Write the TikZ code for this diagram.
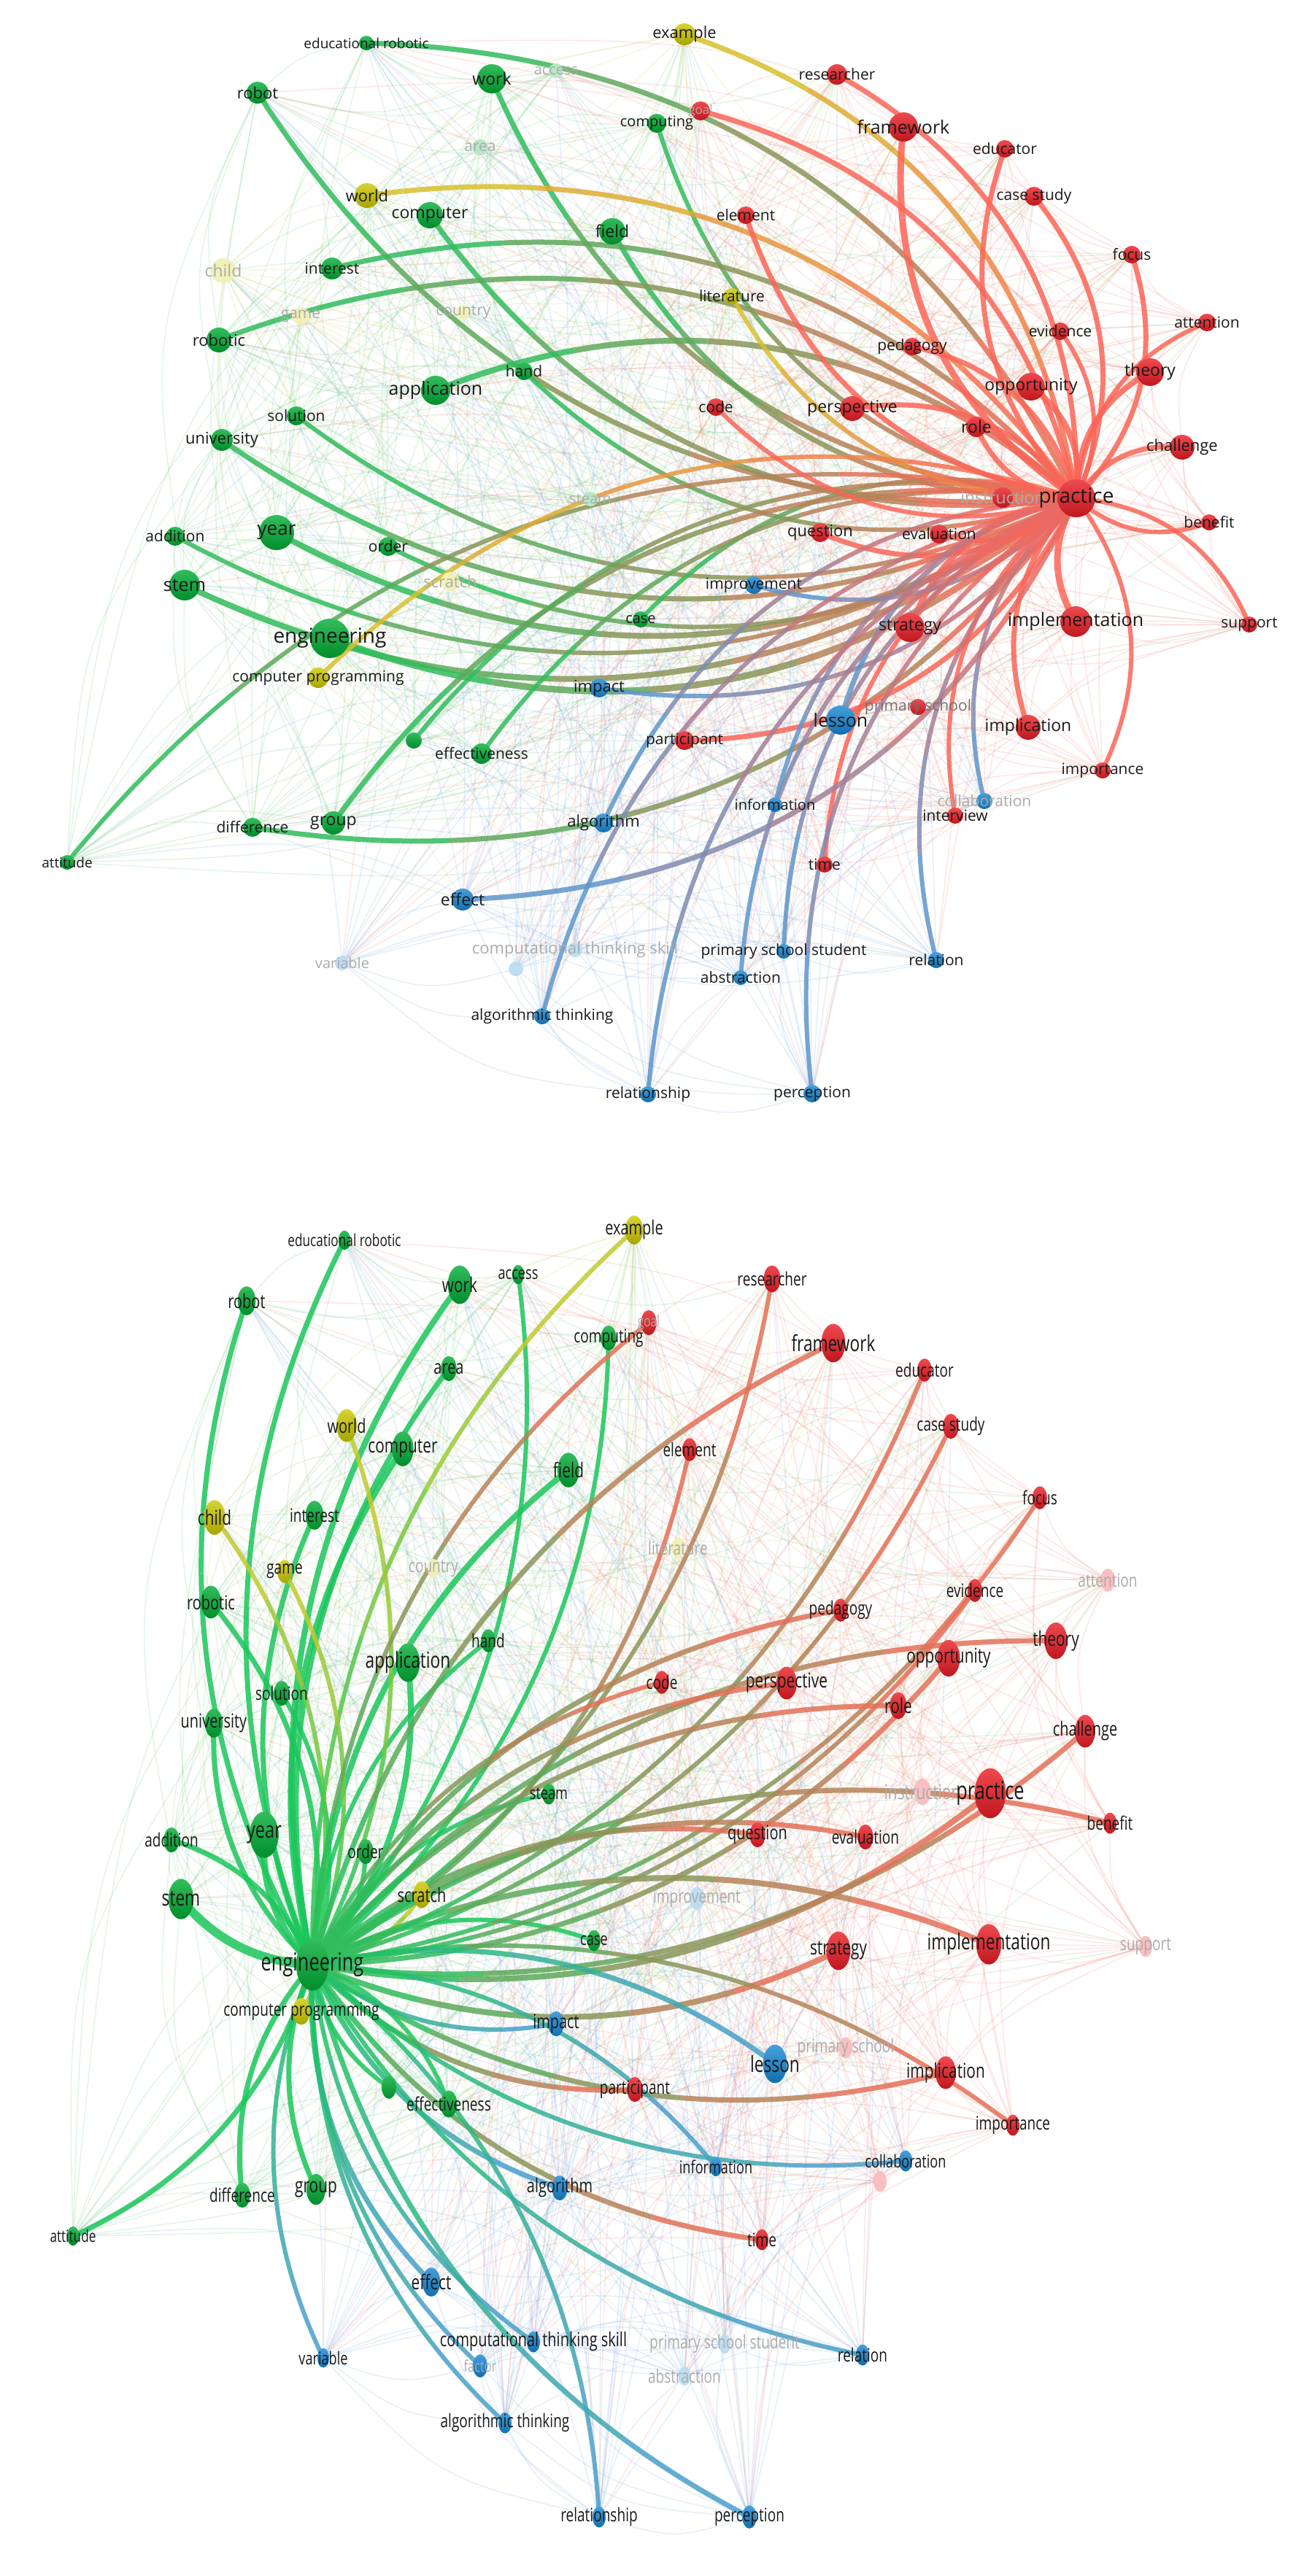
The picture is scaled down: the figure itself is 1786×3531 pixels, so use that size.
\documentclass[tikz,border=0pt]{standalone}
\usepackage{fontspec}
\usepackage{graphicx}
\setmainfont{Open Sans}
\usetikzlibrary{calc,shapes.geometric}
\pgfdeclarelayer{bgl}\pgfdeclarelayer{web}\pgfdeclarelayer{hi}\pgfdeclarelayer{fg}
\pgfsetlayers{bgl,web,hi,main,fg}
\definecolor{vG}{RGB}{0,172,52}
\definecolor{vR}{RGB}{234,28,36}
\definecolor{vB}{RGB}{22,135,212}
\definecolor{vY}{RGB}{205,200,0}
\definecolor{ecG}{RGB}{28,198,92}
\definecolor{ecR}{RGB}{250,102,88}
\definecolor{ecB}{RGB}{78,155,215}
\definecolor{ecY}{RGB}{212,202,40}
\definecolor{fG}{RGB}{110,200,120}
\definecolor{fR}{RGB}{245,130,120}
\definecolor{fB}{RGB}{120,170,225}
\definecolor{fY}{RGB}{215,210,110}
\definecolor{lbl}{RGB}{25,25,25}
\tikzset{
 kwdot/.style={draw=none,inner sep=0pt,outer sep=0pt},
 kwshape/.style={circle,minimum size={2*#1}},
 kwlabel/.style={inner sep=0pt,outer sep=0pt,anchor=center},
 kwsolid/.style={shade,top color=#1!80!white,bottom color=#1!82!black},
 kwpale/.style={fill=#1!28!white},
 lbdark/.style={text=lbl},
 lbpale/.style={text=black!33},
 lbmid/.style={text=black!55},
 hedge/.style={line cap=butt,draw opacity=0.85},
 fedge/.style={line width=1.6pt,draw opacity=0.18},
}
\newcommand{\lw}[1]{#1}
\newcommand{\KWX}[9]{%
 \node[kwdot,kwshape=#5,#6,alias=#2] (#1) at (#3,#4) {};%
 \begin{pgfonlayer}{fg}\node[kwlabel,#8,font=\fontsize{#7}{#7}\selectfont] (#1-lab) at (#1.center) {\lw{#9}};\end{pgfonlayer}%
}
\newcommand{\KW}[8]{\KWX{#1}{#2}{#3}{#4}{#5}{kwsolid=#6}{#7}{lbdark}{#8}}
\newcommand{\KWF}[8]{\KWX{#1}{#2}{#3}{#4}{#5}{kwpale=#6}{#7}{lbpale}{#8}}
\newcommand{\KWL}[8]{\KWX{#1}{#2}{#3}{#4}{#5}{kwsolid=#6}{#7}{lbpale}{#8}}
\newcommand{\gedge}[6]{%
 \pgfmathsetmacro\gbf{abs(#5)}%
 \pgfmathsetmacro\gang{(#5<0)?90:270}%
 \path (#1.center) coordinate (gA) (#2.center) coordinate (gB);%
 \path ($(gA)!0.5!(gB)$) coordinate (gM);%
 \path ($(gM)!\gbf!\gang:(gB)$) coordinate (gQ);%
 \foreach \s in {0,1,2,3,4}{%
   \pgfmathsetmacro\ta{\s/5}\pgfmathsetmacro\tb{(\s+1)/5}%
   \pgfmathsetmacro\aA{(1-\ta)*(1-\ta)}\pgfmathsetmacro\aQ{2*\ta*(1-\ta)}\pgfmathsetmacro\aB{\ta*\ta}%
   \pgfmathsetmacro\bA{(1-\tb)*(1-\tb)}\pgfmathsetmacro\bQ{2*\tb*(1-\tb)}\pgfmathsetmacro\bB{\tb*\tb}%
   \pgfmathsetmacro\cA{(1-\ta)*(1-\tb)}\pgfmathsetmacro\cQ{(1-\ta)*\tb+\ta*(1-\tb)}\pgfmathsetmacro\cB{\ta*\tb}%
   \pgfmathtruncatemacro\mix{100-10*(2*\s+1)}%
   \path ($\aA*(gA)+\aQ*(gQ)+\aB*(gB)$) coordinate (g0)
         ($\bA*(gA)+\bQ*(gQ)+\bB*(gB)$) coordinate (g1)
         ($\cA*(gA)+\cQ*(gQ)+\cB*(gB)$) coordinate (gC);%
   \draw[hedge,line width=#6pt,color=#3!\mix!#4] (g0) .. controls ($(g0)!0.6667!(gC)$) and ($(g1)!0.6667!(gC)$) .. (g1);%
 }%
}
\newcommand{\TE}[4]{\pgfmathsetmacro\tebend{#3*0.6}\gedge{t-#1}{t-practice}{#2}{ecR}{\tebend}{#4}}
\newcommand{\BE}[4]{\pgfmathsetmacro\bebend{#3*0.45}\gedge{b-#1}{b-engineering}{#2}{ecG}{\bebend}{#4}}
\newcommand{\faintweb}[1]{%
 \foreach \i in {1,...,80}{%
  \ifnum\i<28 \def\fc{fG}\else\ifnum\i<35 \def\fc{fY}\else\ifnum\i<65 \def\fc{fR}\else\def\fc{fB}\fi\fi\fi
  \foreach \k in {1,2,3,5,8,12,17,23,31,40}{%
   \pgfmathtruncatemacro\j{mod(\i+\k-1,80)+1}%
   \draw[fedge,color=\fc] (#1\i.center) .. controls ($(#1\i.center)!0.5!(#1\j.center)!0.3!270:(#1\j.center)$) .. (#1\j.center);
  }}}
\begin{document}
\begin{tikzpicture}[x=1pt,y=-1pt]
\begin{pgfonlayer}{bgl}\fill[white] (0,0) rectangle (1786,3531);\end{pgfonlayer}
\useasboundingbox (0,0) rectangle (1786,3531);
% ================= TOP PANEL =================
\KW{t-edurob}{t1}{502}{59}{10}{vG}{19}{educational robotic}
\KW{t-robot}{t2}{353}{127}{15}{vG}{22}{robot}
\KW{t-work}{t3}{674}{108}{20}{vG}{23}{work}
\KWF{t-access}{t4}{762}{97}{10}{vG}{20}{access}
\KW{t-computing}{t5}{900}{169}{13}{vG}{20}{computing}
\KWF{t-area}{t6}{658}{202}{11}{vG}{21}{area}
\KW{t-computer}{t7}{589}{295}{18}{vG}{23}{computer}
\KW{t-field}{t8}{839}{317}{18}{vG}{23}{field}
\KW{t-interest}{t9}{455}{368}{15}{vG}{21}{interest}
\KW{t-robotic}{t10}{300}{466}{17}{vG}{22}{robotic}
\KW{t-hand}{t11}{718}{509}{12}{vG}{21}{hand}
\KW{t-application}{t12}{597}{535}{20}{vG}{25}{application}
\KW{t-solution}{t13}{406}{570}{13}{vG}{21}{solution}
\KW{t-university}{t14}{304}{603}{15}{vG}{22}{university}
\KWF{t-steam}{t15}{809}{684}{10}{vG}{20}{steam}
\KW{t-addition}{t16}{240}{735}{13}{vG}{21}{addition}
\KW{t-year}{t17}{379}{730}{24}{vG}{26}{year}
\KW{t-order}{t18}{532}{749}{13}{vG}{21}{order}
\KW{t-stem}{t19}{253}{802}{21}{vG}{25}{stem}
\KW{t-case}{t20}{878}{849}{11}{vG}{20}{case}
\KW{t-engineering}{t21}{452}{875}{27}{vG}{28}{engineering}
\KW{t-effectiveness}{t22}{660}{1033}{14}{vG}{21}{effectiveness}
\KWX{t-stemedu}{t23}{567}{1015}{11}{kwsolid=vG}{10}{lbdark}{}
\KW{t-difference}{t24}{346}{1134}{13}{vG}{21}{difference}
\KW{t-group}{t25}{457}{1128}{16}{vG}{23}{group}
\KW{t-attitude}{t26}{92}{1182}{10}{vG}{19}{attitude}
\KWF{t-country}{t27}{635}{428}{10}{vY}{21}{country}
\KW{t-example}{t28}{938}{47}{15}{vY}{22}{example}
\KW{t-world}{t29}{503}{268}{17}{vY}{22}{world}
\KWF{t-child}{t30}{306}{371}{17}{vY}{23}{child}
\KWF{t-game}{t31}{412}{433}{12}{vY}{21}{game}
\KW{t-literature}{t32}{1003}{406}{11}{vY}{21}{literature}
\KW{t-comprog}{t33}{436}{929}{14}{vY}{21}{computer programming}
\KWF{t-scratch}{t34}{617}{797}{13}{vY}{22}{scratch}
\KW{t-researcher}{t35}{1147}{102}{14}{vR}{21}{researcher}
\KWL{t-goal}{t36}{960}{152}{13}{vR}{17}{goal}
\KW{t-framework}{t37}{1238}{174}{20}{vR}{25}{framework}
\KW{t-educator}{t38}{1377}{204}{12}{vR}{21}{educator}
\KW{t-casestudy}{t39}{1417}{269}{13}{vR}{21}{case study}
\KW{t-element}{t40}{1022}{295}{12}{vR}{21}{element}
\KW{t-focus}{t41}{1551}{349}{12}{vR}{21}{focus}
\KW{t-attention}{t42}{1654}{442}{12}{vR}{21}{attention}
\KW{t-evidence}{t43}{1453}{454}{12}{vR}{21}{evidence}
\KW{t-pedagogy}{t44}{1250}{475}{12}{vR}{21}{pedagogy}
\KW{t-theory}{t45}{1576}{510}{19}{vR}{23}{theory}
\KW{t-opportunity}{t46}{1413}{530}{19}{vR}{23}{opportunity}
\KW{t-code}{t47}{981}{558}{12}{vR}{21}{code}
\KW{t-perspective}{t48}{1168}{560}{17}{vR}{23}{perspective}
\KW{t-role}{t49}{1338}{585}{14}{vR}{23}{role}
\KW{t-challenge}{t50}{1620}{613}{17}{vR}{22}{challenge}
\KWL{t-instruction}{t51}{1374}{682}{14}{vR}{23}{instruction}
\KW{t-practice}{t52}{1475}{683}{26}{vR}{28}{practice}
\KW{t-benefit}{t53}{1657}{716}{11}{vR}{21}{benefit}
\KW{t-question}{t54}{1124}{730}{13}{vR}{22}{question}
\KW{t-evaluation}{t55}{1287}{732}{13}{vR}{21}{evaluation}
\KW{t-strategy}{t56}{1247}{860}{20}{vR}{23}{strategy}
\KW{t-implementation}{t57}{1474}{852}{21}{vR}{25}{implementation}
\KW{t-support}{t58}{1712}{856}{11}{vR}{21}{support}
\KWX{t-primschool}{t59}{1258}{969}{11}{kwsolid=vR}{21}{lbmid}{primary school}
\KW{t-implication}{t60}{1409}{997}{17}{vR}{23}{implication}
\KW{t-participant}{t61}{938}{1015}{13}{vR}{21}{participant}
\KW{t-importance}{t62}{1511}{1056}{11}{vR}{21}{importance}
\KW{t-interview}{t63}{1309}{1118}{11}{vR}{21}{interview}
\KW{t-time}{t64}{1130}{1185}{11}{vR}{21}{time}
\KW{t-improvement}{t65}{1033}{802}{12}{vB}{21}{improvement}
\KW{t-impact}{t66}{821}{943}{13}{vB}{22}{impact}
\KW{t-lesson}{t67}{1152}{987}{20}{vB}{25}{lesson}
\KW{t-information}{t68}{1062}{1103}{10}{vB}{20}{information}
\KWL{t-collab}{t69}{1349}{1098}{11}{vB}{21}{collaboration}
\KW{t-algorithm}{t70}{827}{1128}{13}{vB}{22}{algorithm}
\KW{t-effect}{t71}{634}{1233}{15}{vB}{23}{effect}
\KW{t-pss}{t72}{1074}{1304}{10}{vB}{21}{primary school student}
\KW{t-relation}{t73}{1283}{1316}{11}{vB}{21}{relation}
\KW{t-abstraction}{t74}{1015}{1340}{10}{vB}{21}{abstraction}
\KWF{t-cts}{t75}{788}{1302}{10}{vB}{22}{computational thinking skill}
\KWF{t-variable}{t76}{469}{1320}{10}{vB}{20}{variable}
\KWX{t-factor}{t77}{707}{1328}{10}{kwpale=vB}{10}{lbpale}{}
\KW{t-algthink}{t78}{743}{1393}{11}{vB}{21}{algorithmic thinking}
\KW{t-relationship}{t79}{888}{1500}{11}{vB}{21}{relationship}
\KW{t-perception}{t80}{1113}{1499}{12}{vB}{21}{perception}
% ================= BOTTOM PANEL (stretched view) =================
\tikzset{kwshape/.style={ellipse,minimum width={1.64*#1},minimum height={2.64*#1}}}
\renewcommand{\lw}[1]{\scalebox{0.907}[1.214]{#1}}
\KW{b-edurob}{b1}{472}{1700}{10}{vG}{19}{educational robotic}
\KW{b-robot}{b2}{338}{1783}{15}{vG}{22}{robot}
\KW{b-work}{b3}{630}{1761}{20}{vG}{23}{work}
\KW{b-access}{b4}{710}{1747}{10}{vG}{20}{access}
\KW{b-computing}{b5}{834}{1834}{13}{vG}{21}{computing}
\KW{b-area}{b6}{615}{1876}{13}{vG}{22}{area}
\KW{b-computer}{b7}{552}{1986}{18}{vG}{23}{computer}
\KW{b-field}{b8}{779}{2015}{18}{vG}{23}{field}
\KW{b-interest}{b9}{431}{2077}{15}{vG}{21}{interest}
\KW{b-robotic}{b10}{289}{2196}{17}{vG}{22}{robotic}
\KW{b-hand}{b11}{669}{2249}{12}{vG}{21}{hand}
\KW{b-application}{b12}{559}{2279}{20}{vG}{25}{application}
\KW{b-solution}{b13}{386}{2321}{13}{vG}{21}{solution}
\KW{b-university}{b14}{293}{2362}{15}{vG}{22}{university}
\KW{b-steam}{b15}{752}{2459}{11}{vG}{20}{steam}
\KW{b-addition}{b16}{235}{2522}{13}{vG}{21}{addition}
\KW{b-year}{b17}{362}{2515}{24}{vG}{26}{year}
\KW{b-order}{b18}{501}{2538}{13}{vG}{21}{order}
\KW{b-stem}{b19}{248}{2603}{21}{vG}{25}{stem}
\KW{b-case}{b20}{814}{2660}{11}{vG}{20}{case}
\KW{b-engineering}{b21}{428}{2693}{27}{vG}{28}{engineering}
\KW{b-effectiveness}{b22}{615}{2884}{14}{vG}{21}{effectiveness}
\KWX{b-stemedu}{b23}{533}{2861}{12}{kwsolid=vG}{10}{lbdark}{}
\KW{b-difference}{b24}{332}{3009}{13}{vG}{21}{difference}
\KW{b-group}{b25}{433}{3001}{16}{vG}{23}{group}
\KW{b-attitude}{b26}{100}{3065}{10}{vG}{19}{attitude}
\KWF{b-country}{b27}{594}{2150}{10}{vY}{21}{country}
\KW{b-example}{b28}{869}{1686}{15}{vY}{22}{example}
\KW{b-world}{b29}{475}{1954}{17}{vY}{22}{world}
\KW{b-child}{b30}{294}{2080}{18}{vY}{23}{child}
\KW{b-game}{b31}{390}{2154}{12}{vY}{21}{game}
\KWF{b-literature}{b32}{929}{2122}{11}{vY}{21}{literature}
\KW{b-comprog}{b33}{413}{2757}{14}{vY}{21}{computer programming}
\KW{b-scratch}{b34}{578}{2597}{14}{vY}{22}{scratch}
\KW{b-researcher}{b35}{1058}{1753}{14}{vR}{21}{researcher}
\KWL{b-goal}{b36}{889}{1813}{13}{vR}{17}{goal}
\KW{b-framework}{b37}{1142}{1841}{20}{vR}{25}{framework}
\KW{b-educator}{b38}{1267}{1878}{12}{vR}{21}{educator}
\KW{b-casestudy}{b39}{1303}{1955}{13}{vR}{21}{case study}
\KW{b-element}{b40}{945}{1987}{12}{vR}{21}{element}
\KW{b-focus}{b41}{1425}{2053}{12}{vR}{21}{focus}
\KWF{b-attention}{b42}{1518}{2166}{12}{vR}{21}{attention}
\KW{b-evidence}{b43}{1336}{2180}{12}{vR}{21}{evidence}
\KW{b-pedagogy}{b44}{1152}{2207}{12}{vR}{21}{pedagogy}
\KW{b-theory}{b45}{1447}{2249}{19}{vR}{23}{theory}
\KW{b-opportunity}{b46}{1300}{2273}{19}{vR}{23}{opportunity}
\KW{b-code}{b47}{907}{2306}{12}{vR}{21}{code}
\KW{b-perspective}{b48}{1078}{2307}{17}{vR}{23}{perspective}
\KW{b-role}{b49}{1231}{2338}{14}{vR}{23}{role}
\KW{b-challenge}{b50}{1487}{2373}{17}{vR}{22}{challenge}
\KWF{b-instruction}{b51}{1264}{2456}{14}{vR}{23}{instruction}
\KW{b-practice}{b52}{1357}{2458}{26}{vR}{28}{practice}
\KW{b-benefit}{b53}{1521}{2499}{11}{vR}{21}{benefit}
\KW{b-question}{b54}{1038}{2515}{13}{vR}{22}{question}
\KW{b-evaluation}{b55}{1186}{2518}{13}{vR}{21}{evaluation}
\KW{b-strategy}{b56}{1149}{2674}{20}{vR}{23}{strategy}
\KW{b-implementation}{b57}{1355}{2665}{21}{vR}{25}{implementation}
\KWF{b-support}{b58}{1570}{2668}{11}{vR}{21}{support}
\KWF{b-primschool}{b59}{1159}{2807}{11}{vR}{21}{primary school}
\KW{b-implication}{b60}{1296}{2841}{17}{vR}{23}{implication}
\KW{b-participant}{b61}{870}{2864}{13}{vR}{21}{participant}
\KW{b-importance}{b62}{1388}{2913}{11}{vR}{21}{importance}
\KWX{b-interview}{b63}{1206}{2990}{11}{kwpale=vR}{10}{lbpale}{}
\KW{b-time}{b64}{1044}{3070}{11}{vR}{21}{time}
\KWF{b-improvement}{b65}{955}{2602}{12}{vB}{21}{improvement}
\KW{b-impact}{b66}{762}{2774}{13}{vB}{22}{impact}
\KW{b-lesson}{b67}{1062}{2829}{20}{vB}{25}{lesson}
\KW{b-information}{b68}{981}{2970}{10}{vB}{20}{information}
\KW{b-collab}{b69}{1241}{2962}{11}{vB}{20}{collaboration}
\KW{b-algorithm}{b70}{767}{2999}{13}{vB}{22}{algorithm}
\KW{b-effect}{b71}{591}{3128}{15}{vB}{23}{effect}
\KWF{b-pss}{b72}{993}{3213}{10}{vB}{21}{primary school student}
\KW{b-relation}{b73}{1182}{3228}{11}{vB}{21}{relation}
\KWF{b-abstraction}{b74}{938}{3257}{10}{vB}{21}{abstraction}
\KW{b-cts}{b75}{731}{3210}{11}{vB}{22}{computational thinking skill}
\KW{b-variable}{b76}{443}{3232}{10}{vB}{20}{variable}
\KWL{b-factor}{b77}{658}{3243}{12}{vB}{18}{factor}
\KW{b-algthink}{b78}{692}{3321}{11}{vB}{21}{algorithmic thinking}
\KW{b-relationship}{b79}{821}{3450}{11}{vB}{21}{relationship}
\KW{b-perception}{b80}{1027}{3450}{12}{vB}{21}{perception}
% ================= faint web =================
\begin{pgfonlayer}{web}
\faintweb{t}
\faintweb{b}
\end{pgfonlayer}
% ================= highlighted links =================
\begin{pgfonlayer}{hi}
\TE{edurob}{ecG}{-1}{7}
\TE{robot}{ecG}{1}{7}
\TE{work}{ecG}{1}{7}
\TE{computing}{ecG}{1}{6}
\TE{computer}{ecG}{1}{7}
\TE{field}{ecG}{1}{7}
\TE{interest}{ecG}{-1}{7}
\TE{robotic}{ecG}{-1}{7}
\TE{hand}{ecG}{1}{6}
\TE{application}{ecG}{-1}{8}
\TE{solution}{ecG}{1}{6}
\TE{university}{ecG}{1}{7}
\TE{addition}{ecG}{1}{6}
\TE{year}{ecG}{1}{8}
\TE{order}{ecG}{1}{6}
\TE{stem}{ecG}{1}{8}
\TE{case}{ecG}{-1}{6}
\TE{engineering}{ecG}{1}{9}
\TE{effectiveness}{ecG}{-1}{6}
\TE{stemedu}{ecG}{-1}{6}
\TE{difference}{ecG}{1}{7}
\TE{group}{ecG}{-1}{7}
\TE{attitude}{ecG}{-1}{6}
\TE{example}{ecY}{-1}{7}
\TE{world}{ecY}{-1}{7}
\TE{literature}{ecY}{1}{6}
\TE{comprog}{ecY}{-1}{6}
\TE{researcher}{ecR}{-1}{7}
\TE{goal}{ecR}{-1}{7}
\TE{framework}{ecR}{1}{9}
\TE{educator}{ecR}{1}{7}
\TE{casestudy}{ecR}{-1}{7}
\TE{element}{ecR}{1}{7}
\TE{focus}{ecR}{-1}{7}
\TE{attention}{ecR}{1}{6}
\TE{evidence}{ecR}{-1}{6}
\TE{pedagogy}{ecR}{-1}{7}
\TE{theory}{ecR}{1}{8}
\TE{opportunity}{ecR}{-1}{8}
\TE{code}{ecR}{1}{6}
\TE{perspective}{ecR}{-1}{7}
\TE{role}{ecR}{1}{7}
\TE{challenge}{ecR}{1}{7}
\TE{benefit}{ecR}{-1}{6}
\TE{question}{ecR}{1}{7}
\TE{evaluation}{ecR}{1}{7}
\TE{strategy}{ecR}{-1}{8}
\TE{implementation}{ecR}{-1}{9}
\TE{support}{ecR}{1}{6}
\TE{implication}{ecR}{-1}{7}
\TE{participant}{ecR}{1}{7}
\TE{importance}{ecR}{1}{6}
\TE{interview}{ecR}{-1}{6}
\TE{time}{ecR}{-1}{6}
\TE{improvement}{ecB}{1}{6}
\TE{impact}{ecB}{1}{6}
\TE{lesson}{ecB}{-1}{7}
\TE{information}{ecB}{-1}{6}
\TE{collab}{ecB}{-1}{6}
\TE{algorithm}{ecB}{-1}{6}
\TE{effect}{ecB}{1}{7}
\TE{pss}{ecB}{-1}{6}
\TE{relation}{ecB}{-1}{6}
\TE{abstraction}{ecB}{-1}{6}
\TE{algthink}{ecB}{-1}{6}
\TE{relationship}{ecB}{-1}{6}
\TE{perception}{ecB}{-1}{6}
% bottom
\BE{edurob}{ecG}{1}{7}
\BE{robot}{ecG}{1}{7}
\BE{work}{ecG}{1}{8}
\BE{access}{ecG}{-1}{6}
\BE{area}{ecG}{1}{7}
\BE{computing}{ecG}{-1}{6}
\BE{computer}{ecG}{1}{8}
\BE{field}{ecG}{1}{8}
\BE{interest}{ecG}{1}{7}
\BE{robotic}{ecG}{-1}{7}
\BE{hand}{ecG}{1}{6}
\BE{application}{ecG}{-1}{8}
\BE{solution}{ecG}{-1}{6}
\BE{university}{ecG}{1}{7}
\BE{steam}{ecG}{1}{6}
\BE{addition}{ecG}{-1}{7}
\BE{year}{ecG}{1}{9}
\BE{order}{ecG}{-1}{6}
\BE{stem}{ecG}{1}{12}
\BE{case}{ecG}{1}{6}
\BE{effectiveness}{ecG}{1}{6}
\BE{stemedu}{ecG}{-1}{6}
\BE{difference}{ecG}{-1}{7}
\BE{group}{ecG}{-1}{7}
\BE{attitude}{ecG}{1}{7}
\BE{example}{ecY}{1}{6}
\BE{world}{ecY}{-1}{6}
\BE{child}{ecY}{-1}{6}
\BE{game}{ecY}{-1}{6}
\BE{comprog}{ecY}{1}{6}
\BE{scratch}{ecY}{-1}{6}
\BE{researcher}{ecR}{-1}{6}
\BE{goal}{ecR}{1}{6}
\BE{framework}{ecR}{1}{7}
\BE{educator}{ecR}{-1}{6}
\BE{casestudy}{ecR}{-1}{6}
\BE{element}{ecR}{-1}{6}
\BE{focus}{ecR}{-1}{6}
\BE{evidence}{ecR}{-1}{6}
\BE{pedagogy}{ecR}{1}{7}
\BE{theory}{ecR}{1}{7}
\BE{opportunity}{ecR}{-1}{7}
\BE{code}{ecR}{1}{6}
\BE{perspective}{ecR}{1}{7}
\BE{role}{ecR}{1}{7}
\BE{challenge}{ecR}{-1}{7}
\BE{practice}{ecR}{-1}{8}
\BE{benefit}{ecR}{1}{7}
\BE{question}{ecR}{1}{7}
\BE{evaluation}{ecR}{1}{7}
\BE{strategy}{ecR}{-1}{8}
\BE{implementation}{ecR}{1}{8}
\BE{implication}{ecR}{-1}{7}
\BE{participant}{ecR}{-1}{7}
\BE{importance}{ecR}{1}{6}
\BE{time}{ecR}{-1}{7}
\BE{impact}{ecB}{-1}{6}
\BE{lesson}{ecB}{1}{7}
\BE{information}{ecB}{1}{6}
\BE{collab}{ecB}{-1}{6}
\BE{algorithm}{ecB}{-1}{7}
\BE{effect}{ecB}{-1}{7}
\BE{relation}{ecB}{-1}{6}
\BE{cts}{ecB}{-1}{6}
\BE{variable}{ecB}{-1}{6}
\BE{factor}{ecB}{-1}{6}
\BE{algthink}{ecB}{-1}{6}
\BE{relationship}{ecB}{1}{6}
\BE{perception}{ecB}{-1}{7}
\end{pgfonlayer}
\end{tikzpicture}
\end{document}
